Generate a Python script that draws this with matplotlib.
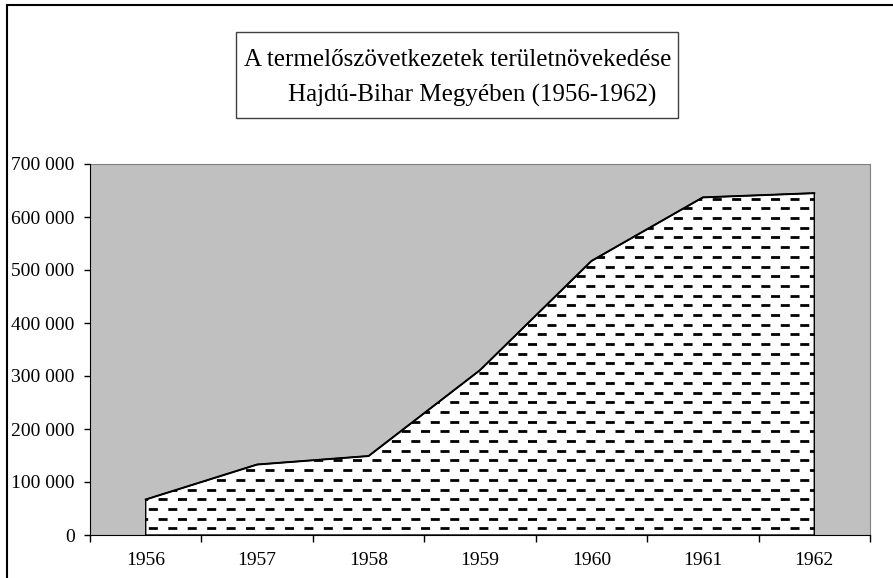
# plot.py
# Termelőszövetkezetek területnövekedése, Hajdú-Bihar megye (1956-1962)

import numpy as np
import matplotlib
matplotlib.use("Agg")
import matplotlib.pyplot as plt
from matplotlib.patches import Polygon, Rectangle
from matplotlib.ticker import FuncFormatter, FixedLocator

# ============================
# 数据
# ============================

years = ["1956", "1957", "1958", "1959", "1960", "1961", "1962"]
area = [67000, 133000, 149000, 311000, 517000, 637000, 645000]

title_lines = ["A termelőszövetkezetek területnövekedése",
               "Hajdú-Bihar Megyében (1956-1962)"]

GRAY = "#c0c0c0"

plt.rcParams["font.family"] = ["Liberation Serif", "DejaVu Serif"]
plt.rcParams["lines.scale_dashes"] = False

fig = plt.figure(figsize=(8.93, 5.78), dpi=100)
ax = fig.add_axes([90 / 893, 43 / 578, 780 / 893, 371 / 578])
ax.set_facecolor(GRAY)

x = np.arange(len(years))
ax.set_xlim(-0.5, len(years) - 0.5)
ax.set_ylim(0, 700000)

# 白色面积 + 黑色边线
verts = [(x[0], 0)] + list(zip(x, area)) + [(x[-1], 0)]
poly = Polygon(verts, closed=True, facecolor="white", edgecolor="black",
               linewidth=1.0, zorder=2)
ax.add_patch(poly)
ax.plot(x, area, color="black", linewidth=1.4, zorder=4)

# 横向虚线填充（交错排列）
row_step = 18300
rows = np.arange(12500, 700000, row_step)
for i, yy in enumerate(rows):
    off = 0 if i % 2 == 0 else 7.0
    ln = ax.hlines(yy, -0.5, len(years) - 0.5, colors="black", linewidth=2.0,
                   linestyles=[(off, (6.5, 7.5))], zorder=3)
    ln.set_clip_path(poly)

# 坐标轴
for s in ["top", "right"]:
    ax.spines[s].set_color("#808080")
for s in ["left", "bottom"]:
    ax.spines[s].set_color("black")
    ax.spines[s].set_zorder(5)

ax.yaxis.set_major_locator(FixedLocator(np.arange(0, 700001, 100000)))
ax.yaxis.set_major_formatter(FuncFormatter(lambda v, p: f"{int(v):,}".replace(",", " ")))
ax.set_xticks(np.arange(-0.5, len(years), 1.0))
ax.set_xticklabels([])
ax.set_xticks(x, minor=True)
ax.set_xticklabels(years, minor=True)
ax.tick_params(axis="x", which="major", direction="out", length=5, width=1, color="black")
ax.tick_params(axis="x", which="minor", length=0, pad=12, labelsize=14)
ax.tick_params(axis="y", direction="out", length=4, width=1, labelsize=14, pad=7)

# 标题框
fig.text(458 / 893, 1 - 66 / 578, title_lines[0], ha="center", va="baseline", fontsize=18)
fig.text(472 / 893, 1 - 102 / 578, title_lines[1], ha="center", va="baseline", fontsize=18)
fig.patches.append(Rectangle((236 / 893, 1 - 118 / 578), 442 / 893, 86 / 578,
                             transform=fig.transFigure, fill=False,
                             edgecolor="#404040", linewidth=1.0))

# 外框
fig.patches.append(Rectangle((7 / 893, -0.05), 1.0, 1 - 5 / 578 + 0.05,
                             transform=fig.transFigure, fill=False,
                             edgecolor="black", linewidth=1.5))

fig.savefig("out.png", dpi=100)
